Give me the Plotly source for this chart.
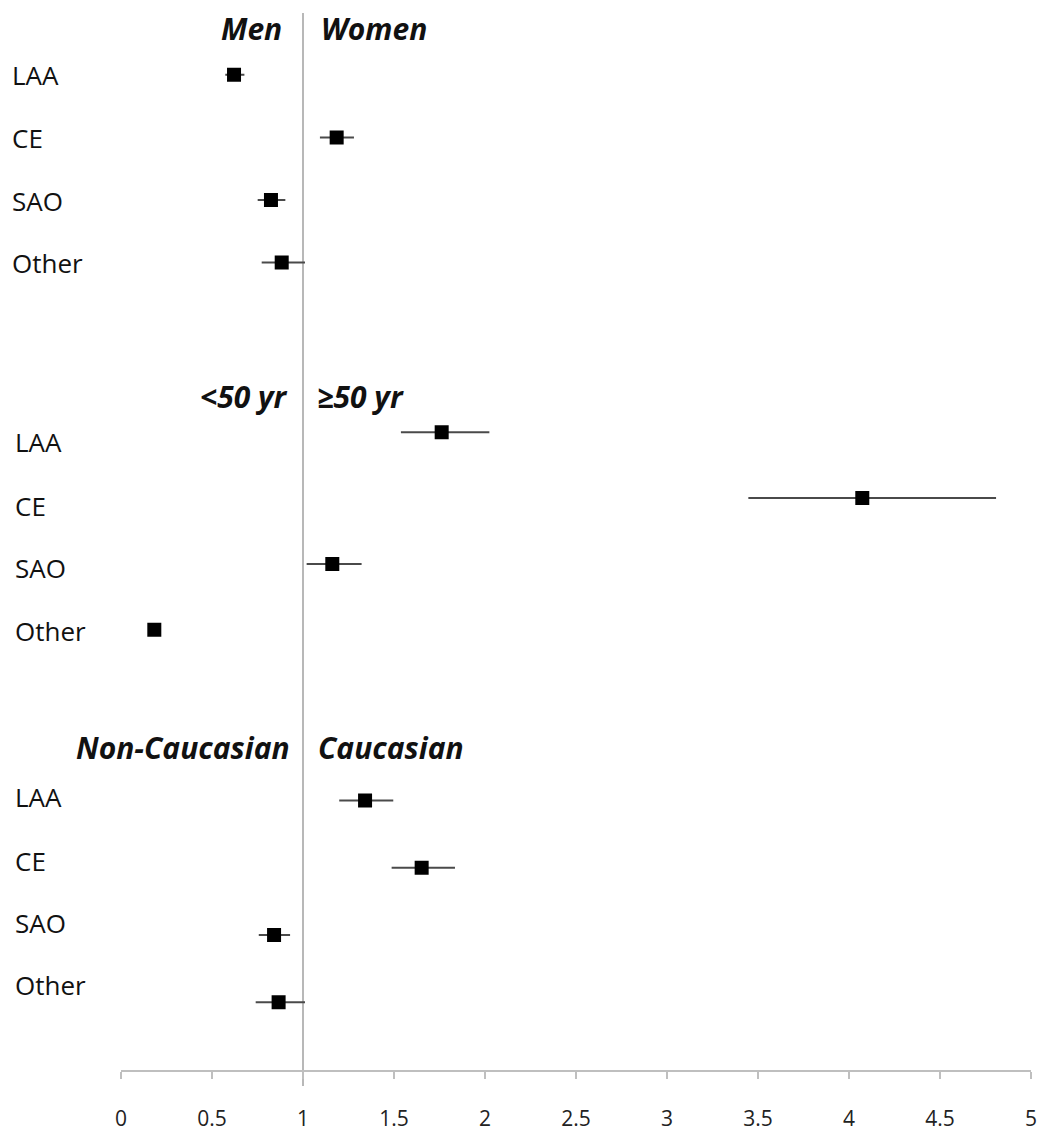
import plotly.graph_objects as go

# ---------------- data ----------------
categories = ["LAA", "CE", "SAO", "Other"]
left_headers = ["Men", "<50 yr", "Non-Caucasian"]
right_headers = ["Women", "≥50 yr", "Caucasian"]

# Sex comparison
sex_or = [0.621, 1.185, 0.824, 0.883]
sex_lo = [0.573, 1.093, 0.751, 0.773]
sex_hi = [0.678, 1.280, 0.903, 1.011]

# Age comparison
age_or = [1.762, 4.073, 1.161, 0.183]
age_lo = [1.538, 3.447, 1.020, 0.183]
age_hi = [2.024, 4.808, 1.322, 0.183]

# Race comparison
race_or = [1.341, 1.652, 0.841, 0.866]
race_lo = [1.199, 1.487, 0.757, 0.740]
race_hi = [1.496, 1.835, 0.929, 1.011]

x_ticks = [0, 0.5, 1, 1.5, 2, 2.5, 3, 3.5, 4, 4.5, 5]
x_tick_labels = ["0", "0.5", "1", "1.5", "2", "2.5", "3", "3.5", "4", "4.5", "5"]

groups = [(sex_or, sex_lo, sex_hi), (age_or, age_lo, age_hi), (race_or, race_lo, race_hi)]

# ---------------- layout geometry (pixels) ----------------
W, H = 1044, 1137
M_L, M_R, M_T, M_B = 121, 13, 5, 64
plot_h = H - M_T - M_B
plot_w = W - M_L - M_R
axis_px = H - M_B

def py(p):  # pixel y -> paper y
    return (axis_px - p) / plot_h

def px(p):  # pixel x -> paper x
    return (p - M_L) / plot_w

# vertical band (pixel top, pixel bottom) for each group's 4 rows
group_bands = [(43.6, 294.4), (400.0, 664.0), (768.3, 1037.7)]
label_x_px = [10, 13, 13]
label_shift = [[0, -1, -1, 0], [-10, -8, -4, -1], [3, 7, 12, 17]]
header_y_px = [29, 397, 749]
header_right_px = [284, 290, 292]
header_left_px = [319, 315, 316]

fig = go.Figure()
annotations = []
yaxis_names = ["y", "y2", "y3"]

for g, (vals, lo, hi) in enumerate(groups):
    plus = [h - v for v, h in zip(vals, hi)]
    minus = [v - l for v, l in zip(vals, lo)]
    fig.add_trace(go.Scatter(
        x=vals, y=list(range(len(categories))),
        mode="markers",
        marker=dict(symbol="square", size=14, color="black"),
        error_x=dict(type="data", symmetric=False, array=plus, arrayminus=minus,
                     color="#4a4a4a", thickness=2, width=0),
        xaxis="x", yaxis=yaxis_names[g],
        hoverinfo="x+y", showlegend=False,
    ))
    for i, c in enumerate(categories):
        annotations.append(dict(
            text=c, xref="paper", yref=yaxis_names[g],
            x=px(label_x_px[g]), y=i, xanchor="left", yanchor="middle",
            yshift=label_shift[g][i], showarrow=False,
            font=dict(family="Open Sans", size=26, color="#111"),
        ))
    annotations.append(dict(
        text="<b><i>%s</i></b>" % left_headers[g], xref="paper", yref="paper",
        x=px(header_right_px[g]), y=py(header_y_px[g]), xanchor="right", yanchor="middle",
        showarrow=False, font=dict(family="Open Sans", size=30, color="#111"),
    ))
    annotations.append(dict(
        text="<b><i>%s</i></b>" % right_headers[g], xref="paper", yref="paper",
        x=px(header_left_px[g]), y=py(header_y_px[g]), xanchor="left", yanchor="middle",
        showarrow=False, font=dict(family="Open Sans", size=30, color="#111"),
    ))

layout_axes = {}
for g, (top, bot) in enumerate(group_bands):
    key = "yaxis" if g == 0 else "yaxis%d" % (g + 1)
    layout_axes[key] = dict(domain=[py(bot), py(top)], range=[3.5, -0.5],
                            visible=False, fixedrange=True)

fig.update_layout(
    width=W, height=H,
    margin=dict(l=M_L, r=M_R, t=M_T, b=M_B),
    paper_bgcolor="white", plot_bgcolor="white",
    showlegend=False,
    xaxis=dict(range=[0, 5], tickmode="array", tickvals=x_ticks, ticktext=x_tick_labels,
               ticks="outside", ticklen=7, tickwidth=2, tickcolor="#bfbfbf",
               showline=True, linecolor="#bfbfbf", linewidth=2,
               showgrid=False, zeroline=False, anchor="free", position=0,
               ticklabelstandoff=22,
               tickfont=dict(family="Open Sans", size=21, color="#222")),
    annotations=annotations,
    shapes=[dict(type="line", xref="x", yref="paper", x0=1, x1=1,
                 y0=py(1088), y1=py(13), line=dict(color="#b8b8b8", width=2),
                 layer="below")],
    **layout_axes,
)

fig.write_html(
    "out.html",
    config={"displayModeBar": False},
    post_script="document.body.style.margin='0';document.body.style.overflow='hidden';",
)
